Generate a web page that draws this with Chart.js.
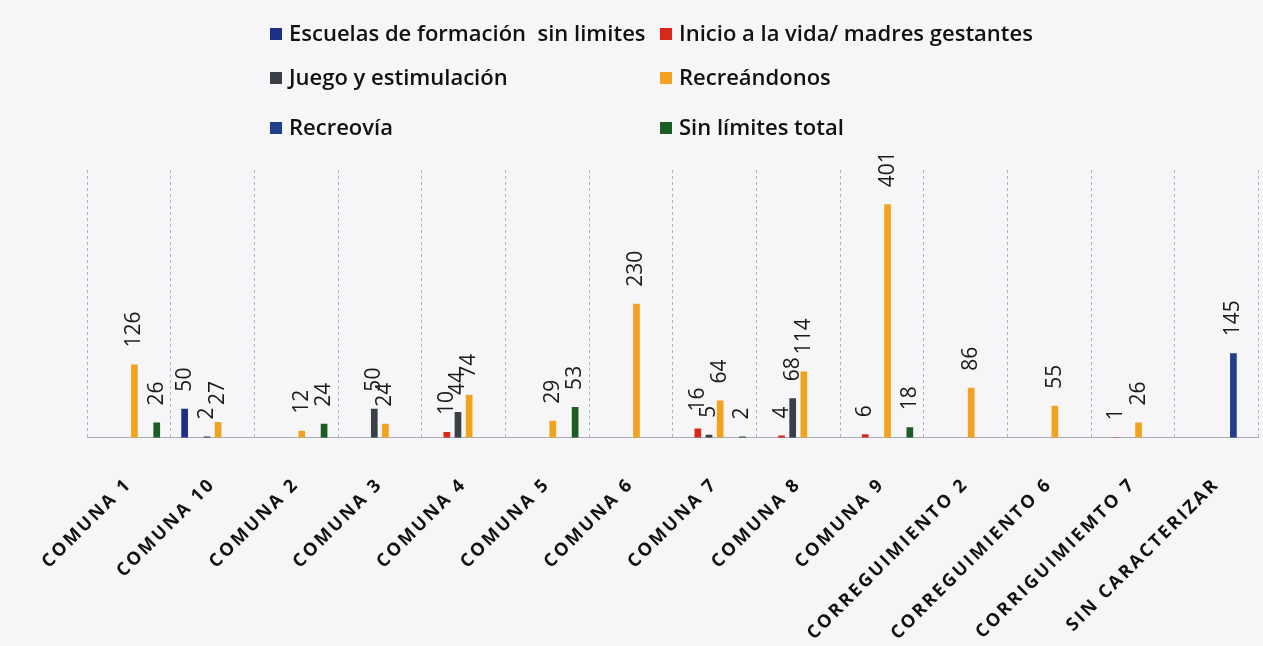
<!DOCTYPE html>
<html>
<head>
<meta charset="utf-8">
<script src="https://cdn.jsdelivr.net/npm/chart.js@4/dist/chart.umd.min.js"></script>
<style>
	html, body { margin: 0; padding: 0; background: #f6f6f8; overflow: hidden; }
	#wrap { position: absolute; left: 0; top: 0; width: 1268px; height: 672px; }
	#legend { position: absolute; left: 0; top: 0; width: 1263px; height: 150px; font-family: "Open Sans", sans-serif; font-weight: 600; font-size: 22px; color: #111; }
	.item { position: absolute; white-space: pre; line-height: 26px; }
	.item span.box { display: inline-block; width: 12px; height: 12px; margin-right: 7px; vertical-align: 1px; }
</style>
</head>
<body>
<div id="wrap"><canvas id="chart" width="1268" height="672"></canvas></div>
<div id="legend"></div>
<script>
const categories = ['COMUNA 1', 'COMUNA 10', 'COMUNA 2', 'COMUNA 3', 'COMUNA 4', 'COMUNA 5', 'COMUNA 6', 'COMUNA 7', 'COMUNA 8', 'COMUNA 9',
	'CORREGUIMIENTO 2', 'CORREGUIMIENTO 6', 'CORRIGUIMIEMTO 7', 'SIN CARACTERIZAR'];

const escuelas     = [null, 50, null, null, null, null, null, null, null, null, null, null, null, null];
const inicioVida   = [null, null, null, null, 10, null, null, 16, 4, 6, null, null, 1, null];
const juego        = [null, 2, null, 50, 44, null, null, 5, 68, null, null, null, null, null];
const recreandonos = [126, 27, 12, 24, 74, 29, 230, 64, 114, 401, 86, 55, 26, null];
const recreovia    = [null, null, null, null, null, null, null, null, null, null, null, null, null, 145];
const sinLimites   = [26, null, 24, null, null, 53, null, 2, null, 18, null, null, null, null];

const seriesNames = ['Escuelas de formación  sin limites', 'Inicio a la vida/ madres gestantes', 'Juego y estimulación',
	'Recreándonos', 'Recreovía', 'Sin límites total'];
const seriesColors = ['#1c2f86', '#d8281c', '#3b4048', '#f2a21e', '#1f3f8c', '#1d5c24'];
const seriesData = [escuelas, inicioVida, juego, recreandonos, recreovia, sinLimites];

// rotated value labels above each bar
const valueLabels = {
	id: 'valueLabels',
	afterDatasetsDraw(chart) {
		const ctx = chart.ctx;
		ctx.save();
		ctx.letterSpacing = '0px';
		ctx.font = '21px "Open Sans"';
		ctx.fillStyle = '#1a1a1a';
		ctx.textAlign = 'left';
		ctx.textBaseline = 'middle';
		chart.data.datasets.forEach((ds, i) => {
			chart.getDatasetMeta(i).data.forEach((bar, j) => {
				const v = ds.data[j];
				if (v === null) return;
				ctx.save();
				ctx.translate(bar.x, bar.y - 17);
				ctx.rotate(-Math.PI / 2);
				ctx.fillText(String(v), 0, 0);
				ctx.restore();
			});
		});
		ctx.restore();
	}
};

const spacedTicks = {
	id: 'spacedTicks',
	beforeDraw(chart) { chart.ctx.letterSpacing = '2.5px'; },
	afterDraw(chart) { chart.ctx.letterSpacing = '0px'; }
};

const chart = new Chart(document.getElementById('chart'), {
	type: 'bar',
	data: {
		labels: categories,
		datasets: seriesNames.map((n, i) => ({
			label: n,
			data: seriesData[i],
			backgroundColor: seriesColors[i],
			barPercentage: 0.6,
			categoryPercentage: 0.8
		}))
	},
	options: {
		responsive: false,
		animation: false,
		layout: { padding: { top: 170, left: 87, right: 2, bottom: 20 } },
		plugins: {
			legend: { display: false },
			tooltip: { enabled: false }
		},
		scales: {
			x: {
				grid: { color: '#b4b4bc', drawTicks: false, offset: true },
				border: { display: true, color: '#a8acb8', dash: [3, 3] },
				ticks: {
					maxRotation: 45, minRotation: 45, padding: 36,
					color: '#111',
					font: { family: '"Open Sans"', size: 18, weight: 'bold' }
				}
			},
			y: {
				display: false,
				min: 0, max: 460
			}
		}
	},
	plugins: [valueLabels, spacedTicks]
});

// html legend in two columns
const legend = document.getElementById('legend');
const colLeft = [270, 660];
const rowTop = [19, 63, 113];
chart.data.datasets.forEach((ds, i) => {
	const d = document.createElement('div');
	d.className = 'item';
	d.style.left = colLeft[i % 2] + 'px';
	d.style.top = rowTop[Math.floor(i / 2)] + 'px';
	d.innerHTML = '<span class="box" style="background:' + ds.backgroundColor + '"></span>' + ds.label;
	legend.appendChild(d);
});
</script>
</body>
</html>
